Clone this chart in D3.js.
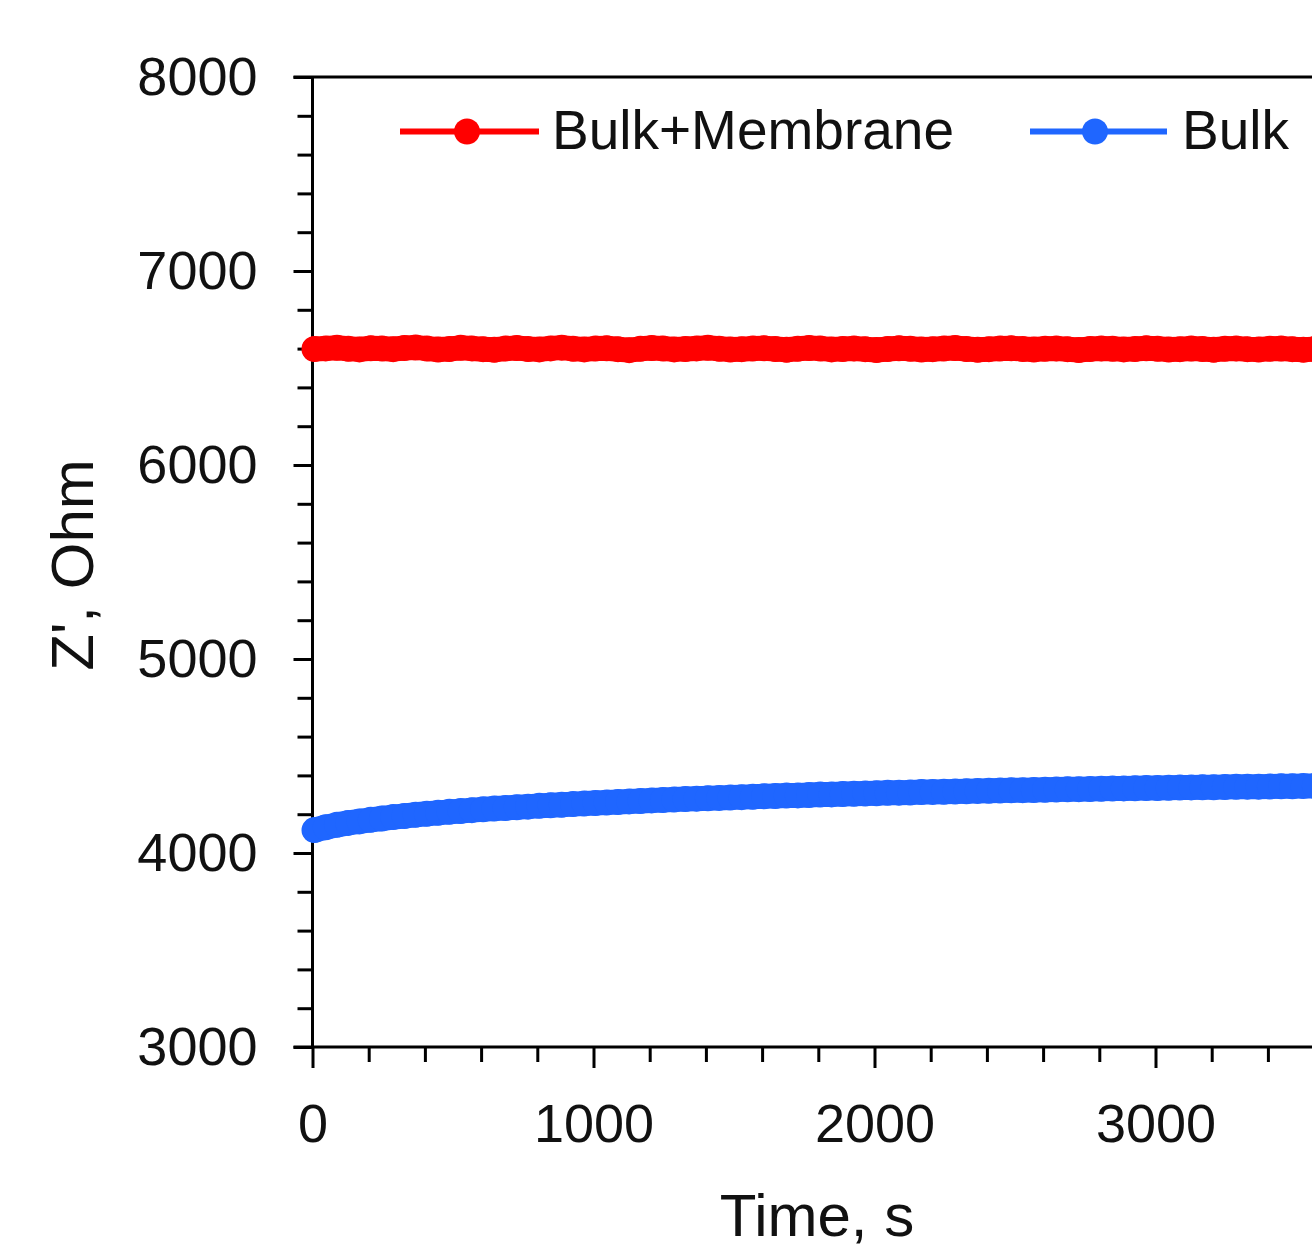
<!DOCTYPE html>
<html>
<head>
<meta charset="utf-8">
<script src="https://cdn.jsdelivr.net/npm/d3@7"></script>
<style>
  html, body { margin: 0; padding: 0; background: #fff; overflow: hidden; }
  svg { display: block; }
  text { font-family: "Liberation Sans", Arial, sans-serif; fill: #111; }
</style>
</head>
<body>
<svg id="chart" width="1312" height="1252"></svg>
<script>
// Impedance (real part) recorded every 40 s
const sampleStep = 40;

const seriesNames = ["Bulk+Membrane", "Bulk"];
const seriesColors = ["#ff0000", "#1f66ff"];

const bulkMembrane = [
  6598, 6601, 6604, 6599, 6596, 6602, 6600, 6597, 6603, 6606,
  6600, 6595, 6598, 6604, 6601, 6597, 6594, 6600, 6603, 6598,
  6596, 6601, 6605, 6599, 6596, 6600, 6602, 6597, 6592, 6599,
  6603, 6600, 6596, 6598, 6601, 6604, 6599, 6595, 6597, 6600,
  6602, 6598, 6594, 6599, 6603, 6600, 6596, 6598, 6601, 6597,
  6593, 6598, 6602, 6599, 6595, 6597, 6600, 6603, 6598, 6594,
  6597, 6600, 6602, 6598, 6595, 6599, 6601, 6597, 6593, 6598,
  6601, 6599, 6596, 6598, 6602, 6599, 6595, 6597, 6600, 6598,
  6594, 6599, 6601, 6597, 6595, 6599, 6600, 6597, 6594, 6598,
  6600, 6598, 6596
];

const bulk = [
  4118, 4133, 4145, 4155, 4163, 4171, 4178, 4185, 4191, 4197,
  4202, 4207, 4212, 4216, 4221, 4225, 4229, 4232, 4236, 4239,
  4243, 4246, 4249, 4252, 4255, 4258, 4260, 4263, 4266, 4268,
  4271, 4273, 4276, 4278, 4280, 4282, 4284, 4286, 4288, 4290,
  4292, 4294, 4296, 4297, 4299, 4301, 4302, 4304, 4305, 4307,
  4308, 4310, 4311, 4312, 4314, 4315, 4316, 4317, 4318, 4320,
  4321, 4322, 4323, 4324, 4325, 4326, 4327, 4328, 4329, 4330,
  4331, 4332, 4333, 4334, 4335, 4335, 4336, 4337, 4338, 4339,
  4339, 4340, 4341, 4342, 4342, 4343, 4344, 4344, 4345, 4346,
  4346, 4347, 4348
];

const xMajorTicks = [0, 1000, 2000, 3000];
const yMajorTicks = [3000, 4000, 5000, 6000, 7000, 8000];
const xMinorStep = 200;
const yMinorStep = 200;

const svg = d3.select("#chart");

const x = d3.scaleLinear().domain([0, 4000]).range([312.5, 1436.5]);
const y = d3.scaleLinear().domain([3000, 8000]).range([1047, 77]);

const axisColor = "#000";
const axisWidth = 3;
const fontSize = 54;

function styleAxis(g) {
  g.selectAll("line").style("stroke", axisColor).style("stroke-width", axisWidth + "px");
  g.selectAll("path").style("stroke", axisColor).style("stroke-width", axisWidth + "px");
  g.selectAll("text")
    .style("font-family", '"Liberation Sans", Arial, sans-serif')
    .style("font-size", fontSize + "px").style("fill", "#111");
}

// frame: top edge, joined to the 8000 tick
svg.append("line")
  .attr("x1", x(0) - 19).attr("x2", x(4000))
  .attr("y1", y(8000)).attr("y2", y(8000))
  .style("stroke", axisColor).style("stroke-width", axisWidth + "px");

// y axis
const yMinor = d3.range(3000, 8001, yMinorStep).filter(v => !yMajorTicks.includes(v));
const yMinG = svg.append("g").attr("transform", `translate(${x(0)},0)`);
yMinG.call(d3.axisLeft(y).tickValues(yMinor).tickSize(15).tickFormat(""));
yMinG.select(".domain").remove();
const yMajG = svg.append("g").attr("transform", `translate(${x(0)},0)`);
yMajG.call(d3.axisLeft(y).tickValues(yMajorTicks).tickSize(19).tickPadding(36).tickFormat(d3.format("d")));
yMajG.select(".domain").attr("d", `M0,${y(3000)}V${y(8000)}`);
styleAxis(yMinG);
styleAxis(yMajG);

// x axis
const xMinor = d3.range(0, 4001, xMinorStep).filter(v => !xMajorTicks.includes(v) && v !== 4000);
const xMinG = svg.append("g").attr("transform", `translate(0,${y(3000)})`);
xMinG.call(d3.axisBottom(x).tickValues(xMinor).tickSize(15).tickFormat(""));
xMinG.select(".domain").remove();
const xMajG = svg.append("g").attr("transform", `translate(0,${y(3000)})`);
xMajG.call(d3.axisBottom(x).tickValues(xMajorTicks).tickSize(21).tickPadding(36).tickFormat(d3.format("d")));
xMajG.select(".domain").attr("d", `M${x(0) - 19},0H${x(4000)}`);
styleAxis(xMinG);
styleAxis(xMajG);

// axis titles
svg.append("text")
  .attr("x", 817).attr("y", 1236)
  .attr("text-anchor", "middle")
  .style("font-size", "60px")
  .text("Time, s");

svg.append("text")
  .attr("transform", "translate(93,565) rotate(-90)")
  .attr("text-anchor", "middle")
  .style("font-size", "60px")
  .text("Z', Ohm");

// series: densely sampled markers overlap into a solid band
const series = [bulkMembrane, bulk];
const line = d3.line()
  .x((d, i) => x(i * sampleStep) + 2)
  .y(d => y(d));

const plot = svg.append("g");
series.forEach((vals, si) => {
  plot.append("path")
    .datum(vals)
    .attr("d", line)
    .attr("fill", "none")
    .attr("stroke", seriesColors[si])
    .attr("stroke-width", 25)
    .attr("stroke-linejoin", "round")
    .attr("stroke-linecap", "round");
  plot.selectAll(null)
    .data(vals)
    .join("circle")
    .attr("cx", (d, i) => x(i * sampleStep) + 2)
    .attr("cy", d => y(d))
    .attr("r", 13)
    .attr("fill", seriesColors[si]);
});

// legend
const legendItems = [
  { x0: 400, x1: 539, cx: 467, tx: 552 },
  { x0: 1030, x1: 1167, cx: 1095, tx: 1182 }
];
const legendY = 131.5;
legendItems.forEach((it, i) => {
  const g = svg.append("g");
  g.append("line")
    .attr("x1", it.x0).attr("x2", it.x1)
    .attr("y1", legendY).attr("y2", legendY)
    .attr("stroke", seriesColors[i]).attr("stroke-width", 6);
  g.append("circle")
    .attr("cx", it.cx).attr("cy", legendY).attr("r", 13)
    .attr("fill", seriesColors[i]);
  g.append("text")
    .attr("x", it.tx).attr("y", legendY + 17)
    .style("font-size", "55px")
    .text(seriesNames[i]);
});
</script>
</body>
</html>
